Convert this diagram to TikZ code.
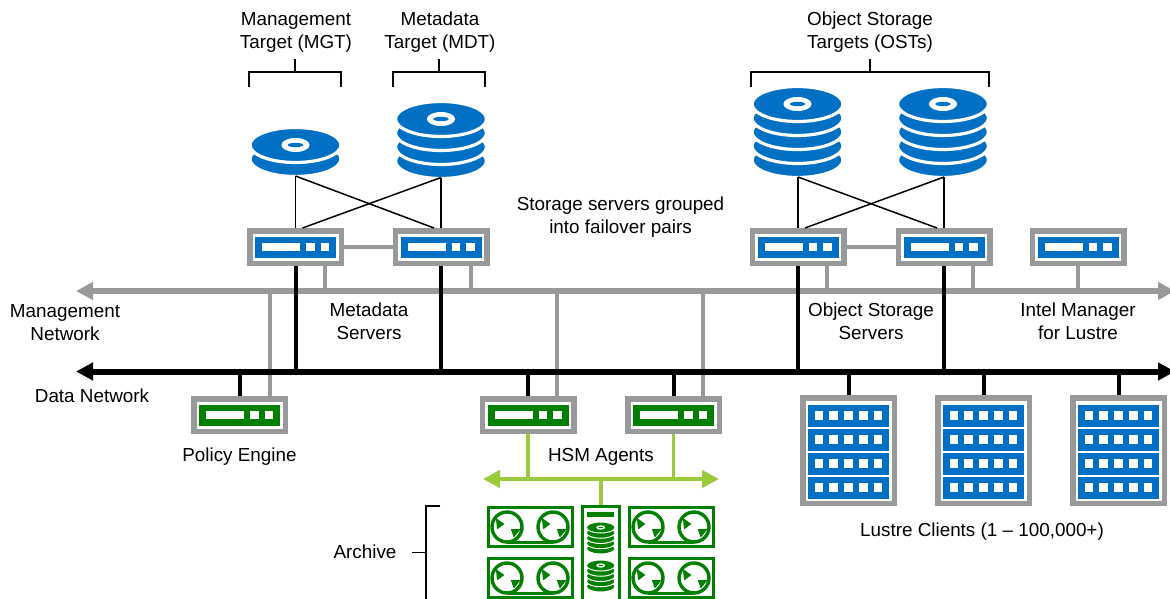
\documentclass[tikz,border=0pt]{standalone}
\usepackage{fontspec}
\setmainfont{Liberation Sans}
\usetikzlibrary{arrows.meta}
\definecolor{srvBlue}{HTML}{0070C5}
\definecolor{srvGreen}{HTML}{007F00}
\definecolor{netGray}{HTML}{98999B}
\definecolor{busGreen}{HTML}{9BCB3C}
\tikzset{
  label/.style={align=center, inner sep=0pt, font=\fontsize{18.85}{23}\selectfont},
  srvbox/.style={draw=netGray, fill=white, line width=5.5pt, minimum width=91.5pt, minimum height=32.5pt, inner sep=0pt},
  rackbox/.style={draw=netGray, fill=white, line width=5.5pt, minimum width=91.5pt, minimum height=105.5pt, inner sep=0pt},
  tapebox/.style={draw=srvGreen, fill=white, line width=3pt, minimum width=84pt, minimum height=39pt, inner sep=0pt},
  mgmtline/.style={draw=netGray, line width=4pt},
  dataline/.style={draw=black, line width=4pt},
  busline/.style={draw=busGreen, line width=3.7pt},
  thinline/.style={draw=black, line width=1.5pt},
  mgmtnet/.style={draw=netGray, line width=5.5pt, {Triangle[length=17pt,width=17pt]}-{Triangle[length=17pt,width=17pt]}},
  datanet/.style={draw=black, line width=6pt, {Triangle[length=17pt,width=17pt]}-{Triangle[length=17pt,width=17pt]}},
  busnet/.style={draw=busGreen, line width=4.5pt, {Triangle[length=17pt,width=17pt]}-{Triangle[length=17pt,width=17pt]}}
}
% name, x, y, colour
\newcommand{\server}[4]{
  \node[srvbox] (#1) at (#2,#3) {};
  \fill[#4] (#2-40.5,#3-10.5) rectangle (#2+40.5,#3+10.5);
  \fill[white] (#2-33.5,#3-4) rectangle (#2+4.5,#3+4);
  \fill[white] (#2+10.5,#3-4) rectangle (#2+19,#3+4);
  \fill[white] (#2+25,#3-4) rectangle (#2+33.5,#3+4);
}
% x, y of top disk, number of disks, colour, rx, ry, spacing
\newcommand{\diskstack}[7]{
  \pgfmathtruncatemacro{\nlast}{#3-1}
  \foreach \i in {\nlast,...,0}
  {
    \draw[white, fill=#4, line width=#5*0.07pt] (#1,#2+\i*#7) ellipse ({#5} and {#6});
  }
  \fill[white] (#1,#2) ellipse ({#5*0.31} and {#6*0.40});
  \fill[#4] (#1,#2) ellipse ({#5*0.17} and {#6*0.125});
}
% name, x, y
\newcommand{\rack}[3]{
  \node[rackbox] (#1) at (#2,#3) {};
  \foreach \r in {-35,-11,13,37}
  {
    \fill[srvBlue] (#2-40.5,#3+\r-11) rectangle (#2+40.5,#3+\r+11);
    \foreach \c in {-29.5,-14.75,0,14.75,29.5}
    {
      \fill[white] (#2+\c-4.3,#3+\r-4.3) rectangle (#2+\c+4.3,#3+\r+4.3);
    }
  }
}
% x, y of reel centre
\newcommand{\reel}[2]{
  \draw[srvGreen, line width=3.4pt] (#1,#2) circle (15);
  \draw[srvGreen, fill=srvGreen, line width=1pt, line join=round] (#1-10.5,#2-8) -- (#1-3.5,#2-3) -- (#1-9.5,#2+1.5) -- cycle;
  \draw[srvGreen, fill=srvGreen, line width=1pt, line join=round] (#1+4.5,#2+2.5) -- (#1+12.5,#2+2.5) -- (#1+7,#2+9.5) -- cycle;
}
% name, x, y of box centre
\newcommand{\tape}[3]{
  \node[tapebox] (#1) at (#2,#3) {};
  \reel{#2-23.5}{#3}
  \reel{#2+22.5}{#3}
  \draw[srvGreen, line width=3pt] (#2-23.5,#3+15) -- (#2+22.5,#3+15);
}

\begin{document}
\begin{tikzpicture}[x=1pt,y=-1pt]
   \useasboundingbox (0,0) rectangle (1170,599);

   \coordinate (mgmtL) at (76,291);
   \coordinate (mgmtR) at (1175,291);
   \coordinate (dataL) at (76,371.5);
   \coordinate (dataR) at (1175,371.5);
   \coordinate (busL) at (483,479);
   \coordinate (busR) at (719,479);

   \server{mdsA}{295.5}{247}{srvBlue}
   \server{mdsB}{441}{247}{srvBlue}
   \server{ossA}{798}{247}{srvBlue}
   \server{ossB}{944}{247}{srvBlue}
   \server{imlSrv}{1078}{247}{srvBlue}
   \server{policySrv}{239.5}{415}{srvGreen}
   \server{hsmA}{528}{415}{srvGreen}
   \server{hsmB}{673.5}{415}{srvGreen}

   \rack{clientA}{848.5}{450.5}
   \rack{clientB}{983.5}{450.5}
   \rack{clientC}{1118.5}{450.5}

   \tape{tapeA}{530.5}{527}
   \tape{tapeB}{530.5}{578}
   \tape{tapeC}{671.5}{527}
   \tape{tapeD}{671.5}{578}
   \node[tapebox, minimum width=37pt, minimum height=97pt] (jbod) at (601,555) {};
   \fill[srvGreen] (587,512) rectangle (614,517);
   \diskstack{600.7}{527.5}{5}{srvGreen}{14.3}{5.5}{5.25}
   \diskstack{600.7}{565.5}{5}{srvGreen}{14.3}{5.5}{5.25}

   \diskstack{295.5}{145}{2}{srvBlue}{45.5}{17.5}{14}
   \diskstack{441}{119}{4}{srvBlue}{45.5}{17.5}{14}
   \diskstack{797.5}{104}{5}{srvBlue}{45.5}{17.5}{14}
   \diskstack{943}{104}{5}{srvBlue}{45.5}{17.5}{14}

   \coordinate (mgtDisk) at (295.5,176);
   \coordinate (mdtDisk) at (441,177.5);
   \coordinate (ostA) at (798,177);
   \coordinate (ostB) at (944,177);

   % disks to servers
   \draw[thinline] (mgtDisk) -- (mgtDisk |- mdsA.north);
   \draw[thinline] (mgtDisk) -- ([xshift=-7pt]mdsB.north);
   \draw[thinline] (mdtDisk) -- (mdtDisk |- mdsB.north);
   \draw[thinline] (mdtDisk) -- ([xshift=7pt]mdsA.north);
   \draw[thinline] (ostA) -- (ostA |- ossA.north);
   \draw[thinline] (ostA) -- ([xshift=-7pt]ossB.north);
   \draw[thinline] (ostB) -- (ostB |- ossB.north);
   \draw[thinline] (ostB) -- ([xshift=7pt]ossA.north);

   % management network
   \draw[mgmtline] (mdsA) -- (mdsB);
   \draw[mgmtline] (ossA) -- (ossB);
   \draw[mgmtline] ([xshift=29.5pt]mdsA.south) -- ([xshift=29.5pt]mdsA.south |- mgmtL);
   \draw[mgmtline] ([xshift=30pt]mdsB.south) -- ([xshift=30pt]mdsB.south |- mgmtL);
   \draw[mgmtline] ([xshift=29pt]ossA.south) -- ([xshift=29pt]ossA.south |- mgmtL);
   \draw[mgmtline] ([xshift=29pt]ossB.south) -- ([xshift=29pt]ossB.south |- mgmtL);
   \draw[mgmtline] (imlSrv.south) -- (imlSrv.south |- mgmtL);
   \draw[mgmtline] ([xshift=30pt]policySrv.north) -- ([xshift=30pt]policySrv.north |- mgmtL);
   \draw[mgmtline] ([xshift=29pt]hsmA.north) -- ([xshift=29pt]hsmA.north |- mgmtL);
   \draw[mgmtline] ([xshift=29.5pt]hsmB.north) -- ([xshift=29.5pt]hsmB.north |- mgmtL);
   \draw[mgmtnet] (mgmtL) -- (mgmtR);

   % data network
   \draw[dataline] (mdsA.south) -- (mdsA.south |- dataL);
   \draw[dataline] (mdsB.south) -- (mdsB.south |- dataL);
   \draw[dataline] (ossA.south) -- (ossA.south |- dataL);
   \draw[dataline] (ossB.south) -- (ossB.south |- dataL);
   \draw[dataline] (policySrv.north) -- (policySrv.north |- dataL);
   \draw[dataline] (hsmA.north) -- (hsmA.north |- dataL);
   \draw[dataline] (hsmB.north) -- (hsmB.north |- dataL);
   \draw[dataline] (clientA.north) -- (clientA.north |- dataL);
   \draw[dataline] (clientB.north) -- (clientB.north |- dataL);
   \draw[dataline] (clientC.north) -- (clientC.north |- dataL);
   \draw[datanet] (dataL) -- (dataR);

   % archive bus
   \draw[busline] (hsmA.south) -- (hsmA.south |- busL);
   \draw[busline] (hsmB.south) -- (hsmB.south |- busL);
   \draw[busline] (jbod.north) -- (jbod.north |- busL);
   \draw[busnet] (busL) -- (busR);

   % brackets
   \coordinate (mgtTop) at (295,59);
   \coordinate (mdtTop) at (439,59);
   \coordinate (ostTop) at (870,59);
   \draw[thinline] (249,87) -- (249,72) -- (341,72) -- (341,87);
   \draw[thinline] (393,87) -- (393,72) -- (485,72) -- (485,87);
   \draw[thinline] (751,87) -- (751,72) -- (989,72) -- (989,87);
   \draw[thinline] (mgtTop) -- (mgtTop |- 0,72);
   \draw[thinline] (mdtTop) -- (mdtTop |- 0,72);
   \draw[thinline] (ostTop) -- (ostTop |- 0,72);
   \draw[thinline] (440,506) -- (426,506) -- (426,600);
   \draw[thinline] (412,552.5) -- (426,552.5);

   \node[label] (mgtLabel) at (296,32) {Management\\Target (MGT)};
   \node[label] (mdtLabel) at (440,32) {Metadata\\Target (MDT)};
   \node[label] (ostLabel) at (870,32) {Object Storage\\Targets (OSTs)};
   \node[label] (failLabel) at (620.5,217.5) {Storage servers grouped\\into failover pairs};
   \node[label] (mgmtLabel) at (65,322.5) {Management\\Network};
   \node[label] (mdsLabel) at (369,321) {Metadata\\Servers};
   \node[label] (ossLabel) at (871,321) {Object Storage\\Servers};
   \node[label] (imlLabel) at (1078,321.5) {Intel Manager\\for Lustre};
   \node[label] (dataLabel) at (92,395.5) {Data Network};
   \node[label] (policyLabel) at (239.5,456.5) {Policy Engine};
   \node[label] (hsmLabel) at (601,456.5) {HSM Agents};
   \node[label] (clientLabel) at (982,531.5) {Lustre Clients (1 – 100,000+)};
   \node[label] (archLabel) at (365,552) {Archive};

\end{tikzpicture}
\end{document}
